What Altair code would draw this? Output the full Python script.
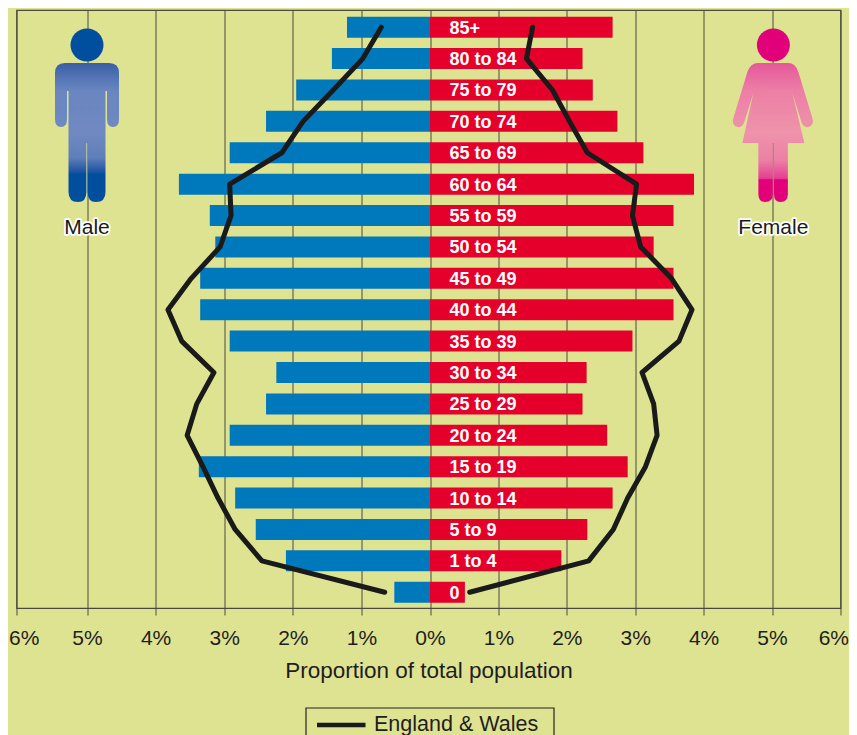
import altair as alt
import pandas as pd

ages = ["85+", "80 to 84", "75 to 79", "70 to 74", "65 to 69", "60 to 64", "55 to 59", "50 to 54", "45 to 49",
        "40 to 44", "35 to 39", "30 to 34", "25 to 29", "20 to 24", "15 to 19", "10 to 14", "5 to 9", "1 to 4", "0"]
male_bars = [1.21, 1.43, 1.95, 2.39, 2.92, 3.66, 3.21, 3.13, 3.35, 3.35, 2.92, 2.24, 2.39, 2.92, 3.37, 2.84, 2.54, 2.10, 0.52]
female_bars = [2.67, 2.23, 2.38, 2.74, 3.12, 3.86, 3.56, 3.27, 3.56, 3.56, 2.96, 2.29, 2.23, 2.59, 2.89, 2.67, 2.30, 1.92, 0.51]
male_line = [0.71, 0.98, 1.41, 1.85, 2.16, 2.92, 2.90, 3.06, 3.48, 3.82, 3.62, 3.15, 3.40, 3.54, 3.31, 3.09, 2.84, 2.45, 0.66]
female_line = [1.50, 1.41, 1.79, 2.04, 2.30, 3.02, 2.96, 3.08, 3.53, 3.83, 3.64, 3.10, 3.27, 3.32, 3.15, 2.89, 2.68, 2.32, 0.58]
ticks = [-6, -5, -4, -3, -2, -1, 0, 1, 2, 3, 4, 5, 6]
series_name = "England & Wales"

FONT = "Liberation Sans"
BG = "#DEE391"
BLUE = "#0078BC"
RED = "#E4002B"
GRID = "#4A4A40"
INK = "#1E1E1E"

MALE_PATH = ("M-22,-47 L22,-47 Q32,-47 32,-37 L32,9 Q32,17 26,17 Q20,17 20,9 L20,-19 L18.5,-19 L18.5,82 "
             "Q18.5,92 9,92 Q0.6,92 0.6,82 L0.6,33 L-0.6,33 L-0.6,82 Q-0.6,92 -9,92 Q-18.5,92 -18.5,82 L-18.5,-19 L-20,-19 "
             "L-20,9 Q-20,17 -26,17 Q-32,17 -32,9 L-32,-37 Q-32,-47 -22,-47 Z")
FEMALE_PATH = ("M-15,-47 L15,-47 Q22,-47 25,-38 L39,8 Q41,15 35,17 Q30,18 28,12 L19,-17 L31,33 L14.5,33 L14.5,84 "
               "Q14.5,92 7,92 Q0.6,92 0.6,84 L0.6,33 L-0.6,33 L-0.6,84 Q-0.6,92 -8,92 Q-15,92 -15,84 L-15,33 L-31,33 L-20,-17 "
               "L-29,12 Q-31,18 -36,17 Q-42,15 -40,8 L-26,-38 Q-23,-47 -15,-47 Z")


def grad(stops):
    return alt.Gradient(gradient="linear", x1=0, y1=0, x2=0, y2=1,
                        stops=[alt.GradientStop(offset=o, color=c) for o, c in stops])


MALE_FILL = grad([(0, "#3A5FA6"), (0.2, "#6A86C0"), (0.5, "#7089C1"), (0.68, "#5F7FBA"), (0.78, "#1F55A3"), (0.8, "#004F9F"), (1, "#004F9F")])
FEMALE_FILL = grad([(0, "#E5589A"), (0.2, "#EC7FA5"), (0.5, "#EF93AB"), (0.7, "#EC7FA5"), (0.83, "#E4408F"), (0.84, "#E2007A"), (1, "#E2007A")])

bars = pd.DataFrame({"age": ages, "male": [-v for v in male_bars], "female": female_bars,
                     "zero": [0] * len(ages)})
line_rows = [{"age": a, "v": -m, "side": "m", "n": i}
             for i, (a, m) in enumerate(zip(ages, male_line))]
line_rows += [{"age": a, "v": f, "side": "f", "n": i}
              for i, (a, f) in enumerate(zip(ages, female_line))]
lines = pd.DataFrame(line_rows)

xscale = alt.Scale(domain=[-6, -5, 0, 5, 6], range=[0, 70.5, 413.5, 755.5, 824], nice=False, zero=False)
yscale = alt.Scale(domain=ages, paddingInner=0.33, paddingOuter=0.19, align=0.56)
x_axis = alt.Axis(values=ticks, labelExpr="abs(datum.value) + '%'", grid=True, gridColor=GRID, gridWidth=1,
                  gridOpacity=1, domainColor=GRID, domainWidth=1.2, tickColor=GRID, tickWidth=1, tickSize=7,
                  labelFont=FONT, labelFontSize=21, labelColor=INK, labelPadding=12, labelFlush=True,
                  labelFlushOffset=8, labelOverlap=False, title="Proportion of total population", titleFont=FONT,
                  titleFontSize=22.5, titleFontWeight="normal", titleColor=INK, titlePadding=11)
Y = alt.Y("age:N", scale=yscale, sort=ages, axis=None)


def xf(field):
    return alt.X(field, scale=xscale, axis=x_axis)


male_layer = alt.Chart(bars).mark_bar(color=BLUE, size=21).encode(x=xf("male:Q"), x2="zero:Q", y=Y)
female_layer = alt.Chart(bars).mark_bar(color=RED, size=21).encode(x=xf("female:Q"), x2="zero:Q", y=Y)
line_layer = alt.Chart(lines).mark_line(strokeWidth=5, strokeCap="round", strokeJoin="round", color="#1A1A1A",
                                        clip=False).encode(
    x=xf("v:Q"), y=Y, detail="side:N", order="n:Q")
age_text = alt.Chart(bars).mark_text(align="left", baseline="middle", dx=19.5, dy=1.5, font=FONT, fontSize=18,
                                     fontWeight="bold", color="white").encode(x=xf("zero:Q"), y=Y, text="age:N")


def figure(pos, path, fill, head, name):
    base = alt.Chart(pd.DataFrame({"p": [pos], "label": [name]}))
    xx = xf("p:Q")
    body = base.mark_point(shape=path, size=4, filled=True, fill=fill, opacity=1, strokeWidth=0).encode(
        x=xx, y=alt.value(100))
    top = base.mark_point(shape="circle", size=1089, filled=True, fill=head, opacity=1, strokeWidth=0).encode(
        x=xx, y=alt.value(35))
    halo = base.mark_text(font=FONT, fontSize=21, stroke="white", strokeWidth=3.5, strokeJoin="round", fill="white").encode(
        x=xx, y=alt.value(218), text="label:N")
    label = base.mark_text(font=FONT, fontSize=21, color="#1A1A1A").encode(x=xx, y=alt.value(218), text="label:N")
    return [body, top, halo, label]


layers = figure(-5, MALE_PATH, MALE_FILL, "#004F9F", "Male") + figure(5.02, FEMALE_PATH, FEMALE_FILL, "#E2007A", "Female")

key = alt.Chart(pd.DataFrame({"label": [series_name]}))
key_box = key.mark_rect(fill=BG, stroke="#222222", strokeWidth=1.2).encode(
    x=alt.value(289.5), x2=alt.value(537.5), y=alt.value(698), y2=alt.value(760))
key_line = key.mark_rule(color="#1A1A1A", strokeWidth=4.5).encode(
    x=alt.value(300.5), x2=alt.value(349), y=alt.value(715))
key_text = key.mark_text(align="left", baseline="middle", font=FONT, fontSize=21.5, color=INK).encode(
    x=alt.value(357.5), y=alt.value(715), text="label:N")

chart = alt.layer(male_layer, *layers, female_layer, line_layer, age_text, key_box, key_line, key_text).properties(
    width=824, height=598, background=BG,
    padding={"left": 8.5, "right": 8.5, "top": 2, "bottom": 135},
    autosize=alt.AutoSizeParams(type="none"),
).configure_view(stroke=GRID, strokeWidth=1.2)

chart.save("out.html", embed_options={"renderer": "svg", "actions": False})
